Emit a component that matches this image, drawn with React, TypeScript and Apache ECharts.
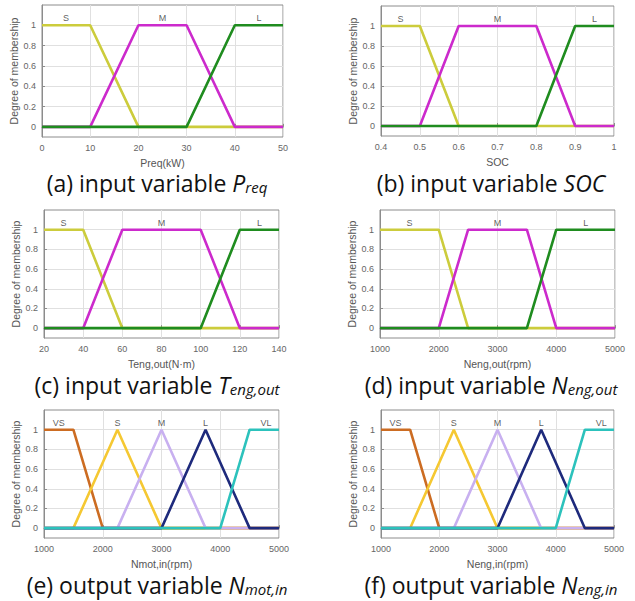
import React, { useEffect, useRef } from "react";
import * as echarts from "echarts";

// ---------- data ----------
const membershipTicks = [0, 0.2, 0.4, 0.6, 0.8, 1];
const labelLevel = 1.07;

const preqS = [[0, 1], [10, 1], [20, 0], [50, 0]];
const preqM = [[0, 0], [10, 0], [20, 1], [30, 1], [40, 0], [50, 0]];
const preqL = [[0, 0], [30, 0], [40, 1], [50, 1]];
const preqTermX = [5, 25, 45];

const socS = [[0.4, 1], [0.5, 1], [0.6, 0], [1, 0]];
const socM = [[0.4, 0], [0.5, 0], [0.6, 1], [0.8, 1], [0.9, 0], [1, 0]];
const socL = [[0.4, 0], [0.8, 0], [0.9, 1], [1, 1]];
const socTermX = [0.45, 0.7, 0.95];

const tengS = [[20, 1], [40, 1], [60, 0], [140, 0]];
const tengM = [[20, 0], [40, 0], [60, 1], [100, 1], [120, 0], [140, 0]];
const tengL = [[20, 0], [100, 0], [120, 1], [140, 1]];
const tengTermX = [30, 80, 130];

const nengOutS = [[1000, 1], [2000, 1], [2500, 0], [5000, 0]];
const nengOutM = [[1000, 0], [2000, 0], [2500, 1], [3500, 1], [4000, 0], [5000, 0]];
const nengOutL = [[1000, 0], [3500, 0], [4000, 1], [5000, 1]];
const nengOutTermX = [1500, 3000, 4500];

const outVS = [[1000, 1], [1500, 1], [2000, 0], [5000, 0]];
const outS = [[1000, 0], [1500, 0], [2250, 1], [3000, 0], [5000, 0]];
const outM = [[1000, 0], [2250, 0], [3000, 1], [3750, 0], [5000, 0]];
const outL = [[1000, 0], [3000, 0], [3750, 1], [4500, 0], [5000, 0]];
const outVL = [[1000, 0], [4000, 0], [4500, 1], [5000, 1]];
const outTermX = [1250, 2250, 3000, 3750, 4780];

const inputTerms = ["S", "M", "L"];
const outputTerms = ["VS", "S", "M", "L", "VL"];

const inputColors = ["#cccc3c", "#cc2acc", "#1f8c1f"];
const outputColors = ["#cc6c22", "#f5c832", "#c8b0f0", "#1e2a7c", "#2cc2bc"];

const panels = [
  { grid: { left: 42, top: 5, width: 241, height: 132 }, xMin: 0, xMax: 50, xInterval: 10, xName: "Preq(kW)", mfs: [preqS, preqM, preqL], terms: inputTerms, termX: preqTermX, colors: inputColors, caption: "(a) input variable {i|P}{s|req}", cap: [157, 183] },
  { grid: { left: 381, top: 6, width: 233, height: 130 }, xMin: 0.4, xMax: 1, xInterval: 0.1, xName: "SOC", mfs: [socS, socM, socL], terms: inputTerms, termX: socTermX, colors: inputColors, caption: "(b) input variable {i|SOC}", cap: [491, 183] },
  { grid: { left: 44, top: 210, width: 235, height: 128 }, xMin: 20, xMax: 140, xInterval: 20, xName: "Teng,out(N·m)", mfs: [tengS, tengM, tengL], terms: inputTerms, termX: tengTermX, colors: inputColors, caption: "(c) input variable {i|T}{s|eng,out}", cap: [157, 385] },
  { grid: { left: 380, top: 210, width: 235, height: 128 }, xMin: 1000, xMax: 5000, xInterval: 1000, xName: "Neng,out(rpm)", mfs: [nengOutS, nengOutM, nengOutL], terms: inputTerms, termX: nengOutTermX, colors: inputColors, caption: "(d) input variable {i|N}{s|eng,out}", cap: [491, 385] },
  { grid: { left: 44, top: 410, width: 235, height: 128 }, xMin: 1000, xMax: 5000, xInterval: 1000, xName: "Nmot,in(rpm)", mfs: [outVS, outS, outM, outL, outVL], terms: outputTerms, termX: outTermX, colors: outputColors, caption: "(e) output variable {i|N}{s|mot,in}", cap: [157, 585] },
  { grid: { left: 381, top: 410, width: 233, height: 128 }, xMin: 1000, xMax: 5000, xInterval: 1000, xName: "Neng,in(rpm)", mfs: [outVS, outS, outM, outL, outVL], terms: outputTerms, termX: outTermX, colors: outputColors, caption: "(f) output variable {i|N}{s|eng,in}", cap: [491, 585] },
];

const TICK_FONT = "'Liberation Sans', Arial, sans-serif";
const CAP_FONT = "'Open Sans', 'Noto Sans', sans-serif";
const AXIS_COLOR = "#8c8c8c";
const LABEL_COLOR = "#666";
const CAP_SIZE = 23;

const fmt = (v: number) => String(+Number(v).toFixed(6));

function buildOption() {
  const grid: any[] = [];
  const xAxis: any[] = [];
  const yAxis: any[] = [];
  const series: any[] = [];
  const graphic: any[] = [];

  panels.forEach((p, i) => {
    grid.push({ ...p.grid, show: true, borderColor: AXIS_COLOR, borderWidth: 1, backgroundColor: "#fff" });
    xAxis.push({
      gridIndex: i, type: "value", min: p.xMin, max: p.xMax, interval: p.xInterval,
      name: p.xName, nameLocation: "middle", nameGap: 20,
      nameTextStyle: { fontSize: 10.5, color: "#555", fontFamily: TICK_FONT },
      axisLine: { show: true, lineStyle: { color: AXIS_COLOR } },
      axisTick: { show: true, inside: true, length: 3, lineStyle: { color: AXIS_COLOR } },
      axisLabel: { fontSize: 9, color: LABEL_COLOR, margin: 6, fontFamily: TICK_FONT, formatter: fmt },
      splitLine: { show: true, lineStyle: { color: "#e0e0e0", width: 1 } },
    });
    yAxis.push({
      gridIndex: i, type: "value", min: -0.1, max: 1.2,
      name: "Degree of membership", nameLocation: "middle", nameGap: 16, nameRotate: 90,
      nameTextStyle: { fontSize: 10.5, color: "#555", fontFamily: TICK_FONT },
      axisLine: { show: true, lineStyle: { color: AXIS_COLOR } },
      axisTick: { show: true, inside: true, length: 3, customValues: membershipTicks, lineStyle: { color: AXIS_COLOR } },
      axisLabel: { fontSize: 9, color: LABEL_COLOR, margin: 6, customValues: membershipTicks, fontFamily: TICK_FONT, formatter: fmt },
      splitLine: { show: true, lineStyle: { color: "#e0e0e0", width: 1 } },
    });
    p.mfs.forEach((mf, k) => {
      series.push({
        type: "line", xAxisIndex: i, yAxisIndex: i, data: mf, symbol: "none",
        lineStyle: { color: p.colors[k], width: 2.6 }, z: 2 + k,
      });
    });
    series.push({
      type: "scatter", xAxisIndex: i, yAxisIndex: i, symbolSize: 0, z: 10,
      data: p.terms.map((t, k) => ({ name: t, value: [p.termX[k], labelLevel] })),
      label: { show: true, position: "inside", formatter: "{b}", fontSize: 9, color: "#333", fontFamily: TICK_FONT },
    });
    graphic.push({
      type: "text", x: p.cap[0], y: p.cap[1],
      style: {
        text: p.caption, align: "center", verticalAlign: "middle",
        fontSize: CAP_SIZE, fontFamily: CAP_FONT, fill: "#111", lineHeight: 22,
        rich: {
          i: { fontSize: CAP_SIZE, fontStyle: "italic", fontFamily: CAP_FONT, fill: "#111", lineHeight: 22 },
          s: { fontSize: 15, fontStyle: "italic", fontFamily: CAP_FONT, fill: "#111", lineHeight: 8, verticalAlign: "bottom" },
        },
      },
    });
  });

  return { animation: false, backgroundColor: "#fff", grid, xAxis, yAxis, series, graphic };
}

export default function App() {
  const ref = useRef<HTMLDivElement>(null);
  useEffect(() => {
    if (!ref.current) return;
    const chart = echarts.init(ref.current, null, { renderer: "svg" });
    chart.setOption(buildOption());
    return () => chart.dispose();
  }, []);
  return (
    <div
      ref={ref}
      style={{ position: "fixed", left: 0, top: 0, width: 635, height: 601, background: "#fff" }}
    />
  );
}
